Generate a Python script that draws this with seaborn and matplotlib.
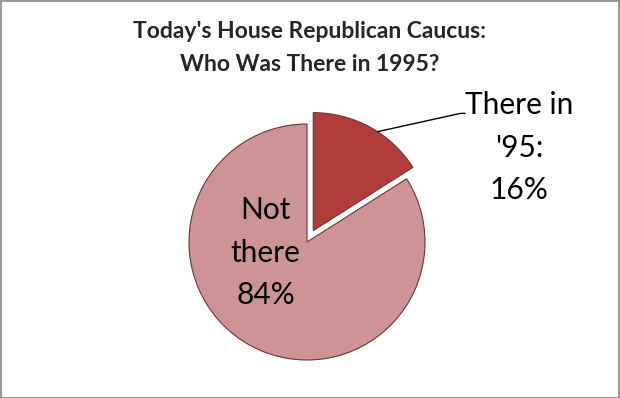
import matplotlib
matplotlib.use("Agg")
import matplotlib.pyplot as plt
import seaborn as sns
import numpy as np

# ── data ─────────────────────────────────────────────────────────────────────
slice_labels = ["There in\n'95:\n16%", "Not\nthere\n84%"]
slice_shares = [16, 84]
slice_colors = ["#B03C3C", "#CC9494"]
slice_explode = [0.11, 0.0]

title_text = "Today's House Republican Caucus:\nWho Was There in 1995?"

# ── style ────────────────────────────────────────────────────────────────────
sns.set_theme(style="white")
plt.rcParams["font.family"] = ["Lato", "DejaVu Sans"]

fig = plt.figure(figsize=(6.2, 3.98), dpi=100)
fig.patch.set_facecolor("white")
ax = fig.add_axes([0, 0, 1, 1])

wedges, _ = ax.pie(slice_shares, explode=slice_explode, colors=slice_colors,
                   startangle=90, counterclock=False,
                   wedgeprops=dict(edgecolor="#6E3535", linewidth=0.8))

# pie radius = 118 px, centre at (307, 242) px from top-left
ax.set_aspect("auto")
ax.set_xlim(-307 / 118, (620 - 307) / 118)
ax.set_ylim(-(398 - 242) / 118, 242 / 118)
ax.axis("off")

# inside label for the large slice
ax.text(-0.35, -0.09, slice_labels[1], ha="center", va="center",
        fontsize=21.5, linespacing=1.62, color="black")

# outside label with leader line for the small slice
w = wedges[0]
ang = np.deg2rad(57)
edge_pt = (w.center[0] + w.r * np.cos(ang), w.center[1] + w.r * np.sin(ang))
ax.text(1.80, 0.80, slice_labels[0], ha="center", va="center",
        fontsize=21.5, linespacing=1.62, color="black")
ax.plot([edge_pt[0], 1.30, 1.34], [edge_pt[1], 1.09, 1.09],
        color="black", linewidth=1.0)

fig.text(0.5, 0.88, title_text, ha="center", va="center",
         fontsize=16.5, fontweight="bold", linespacing=1.7)

# chart-area border
fig.add_artist(plt.Rectangle((0.001, 0.001), 0.997, 0.997, transform=fig.transFigure,
                             fill=False, edgecolor="#9A9A9A", linewidth=1.5))

plt.savefig("out.png", dpi=100)
